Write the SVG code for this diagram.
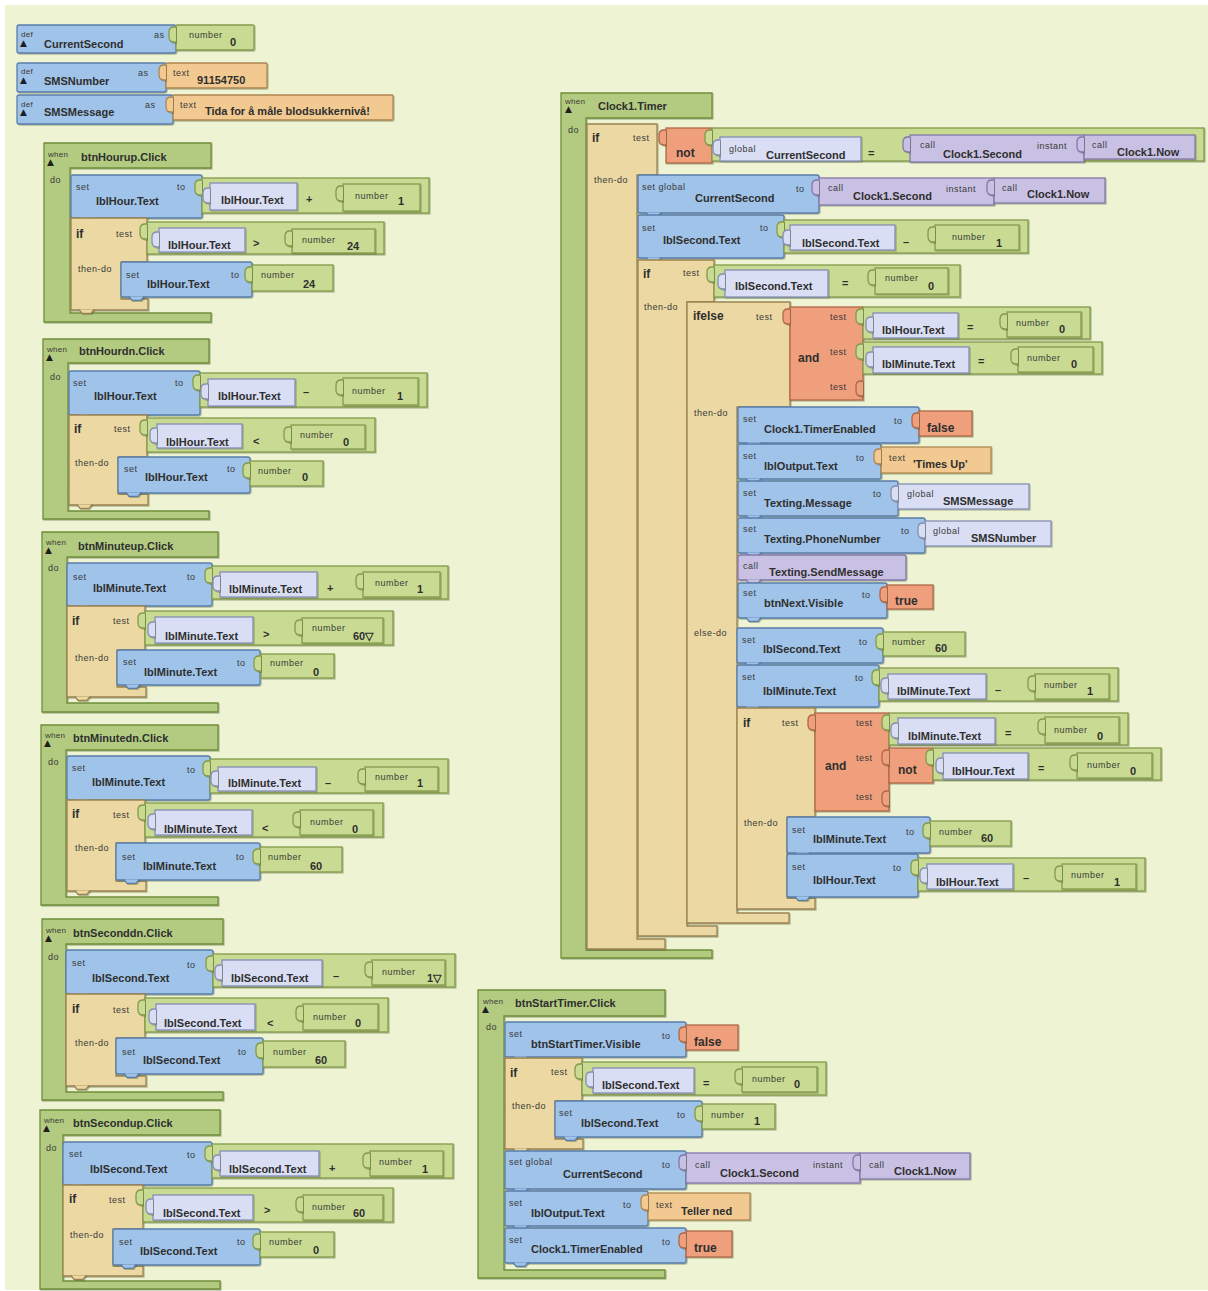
<svg xmlns="http://www.w3.org/2000/svg" xmlns:xlink="http://www.w3.org/1999/xlink" width="1208" height="1291" viewBox="0 0 1208 1291">
<defs>
<style>
.ev{fill:#b3cb80;stroke:#6f8d3b}
.st{fill:#9fc3e9;stroke:#5a7eab}
.ct{fill:#ecd8a2;stroke:#9a8252}
.nm{fill:#c9db92;stroke:#839a4a}
.gt{fill:#d9def4;stroke:#868fb4}
.cl{fill:#c9c1e4;stroke:#8378aa}
.tx{fill:#f2ca91;stroke:#ad8652}
.lg{fill:#ef9f7c;stroke:#ae6848}
rect,path,use{stroke-width:1.3}
.blk rect,.blk path,.blk use{filter:url(#bv)}
text{font-family:"Liberation Sans",Arial,sans-serif;fill:#2f2f2f}
.n{font-size:11px;font-weight:bold}
.v{font-size:11px;font-weight:bold}
.k{font-size:12px;font-weight:bold}
.l{font-size:9px;letter-spacing:.5px;dominant-baseline:central;fill:#3a3a3a}
.s{font-size:8px;letter-spacing:.3px;dominant-baseline:central;fill:#3a3a3a}
.t{font-size:9px;dominant-baseline:central;fill:#1e1e1e;font-family:"DejaVu Sans",sans-serif}
.o{font-size:11px;font-weight:bold;dominant-baseline:central}
</style>
<!-- soft bevel under every block -->
<filter id="bv" x="-5%" y="-5%" width="115%" height="125%">
<feDropShadow dx="1" dy="1" stdDeviation="0.4" flood-color="#3c4a20" flood-opacity="0.35"/>
</filter>
<!-- value plug on the left edge of an input block -->
<path id="tb" d="M0,2 h-2 c-3,0 -5,2 -5,5 v5 c0,3 2,5 5,5 h2"/>
<!-- statement connector bump under a block -->
<path id="nt" d="M0,-0.6 l3,4 h9 l3,-4"/>
</defs>

<rect x="0" y="0" width="1208" height="1291" fill="#ffffff"/>
<rect x="5" y="5" width="1203" height="1285" fill="#eef4d3"/>

<g class="blk">
<!-- global variables -->
<g id="def-CurrentSecond">
<rect class="st" x="17" y="25" width="159" height="28" rx="2"/>
<rect class="nm" x="176" y="25" width="78" height="25" rx="1"/><use href="#tb" x="176" y="25" class="nm"/>
<text class="s" x="21" y="34">def</text><text class="t" x="20" y="43">▲</text>
<text class="n" x="44" y="48">CurrentSecond</text>
<text class="l" x="154" y="35">as</text>
<text class="l" x="189" y="35">number</text><text class="v" x="230" y="46">0</text>
</g>
<g id="def-SMSNumber">
<rect class="st" x="17" y="63" width="149" height="29" rx="2"/>
<rect class="tx" x="166" y="63" width="101" height="25" rx="1"/><use href="#tb" x="166" y="63" class="tx"/>
<text class="s" x="21" y="71">def</text><text class="t" x="20" y="80">▲</text>
<text class="n" x="44" y="85">SMSNumber</text>
<text class="l" x="138" y="73">as</text>
<text class="l" x="173" y="73">text</text><text class="v" x="197" y="84">91154750</text>
</g>
<g id="def-SMSMessage">
<rect class="st" x="17" y="95" width="156" height="29" rx="2"/>
<rect class="tx" x="173" y="95" width="220" height="25" rx="1"/><use href="#tb" x="173" y="95" class="tx"/>
<text class="s" x="21" y="104">def</text><text class="t" x="20" y="112">▲</text>
<text class="n" x="44" y="116">SMSMessage</text>
<text class="l" x="145" y="105">as</text>
<text class="l" x="180" y="105">text</text><text class="v" x="205" y="115">Tida for å måle blodsukkernivå!</text>
</g>

<!-- when btnHourup.Click -->
<g id="ev-btnHourup">
<path class="ev" d="M44,143 H211 V168 H70 V313 H211 V322 H44 Z"/>
<text class="s" x="48" y="154">when</text><text class="t" x="47" y="162">▲</text>
<text class="n" x="81" y="161">btnHourup.Click</text><text class="l" x="50" y="180">do</text>
<g id="hu-set">
<rect class="st" x="71" y="175" width="131" height="43" rx="2"/><use href="#nt" x="79" y="218" class="st"/>
<text class="l" x="76" y="187">set</text><text class="n" x="96" y="205">lblHour.Text</text><text class="l" x="177" y="187">to</text>
<rect class="nm" x="202" y="178" width="227" height="35"/><use href="#tb" x="202" y="178" class="nm"/>
<rect class="gt" x="210" y="183" width="87" height="27"/><use href="#tb" x="210" y="186" class="gt"/>
<text class="n" x="221" y="204">lblHour.Text</text><text class="o" x="306" y="199">+</text>
<rect class="nm" x="343" y="184" width="77" height="27"/><use href="#tb" x="343" y="184" class="nm"/>
<text class="l" x="355" y="196">number</text><text class="v" x="398" y="205">1</text>
</g>
<g id="hu-if">
<path class="ct" d="M71,218 H147 V262 H121 V299 H148 V310 H71 Z"/><use href="#nt" x="79" y="310" class="ct"/>
<text class="k" x="76" y="238">if</text><text class="l" x="116" y="234">test</text><text class="l" x="78" y="269">then-do</text>
<rect class="nm" x="147" y="222" width="237" height="32"/><use href="#tb" x="147" y="222" class="nm"/>
<rect class="gt" x="159" y="228" width="86" height="24"/><use href="#tb" x="159" y="230" class="gt"/>
<text class="n" x="168" y="249">lblHour.Text</text><text class="o" x="253" y="243">&gt;</text>
<rect class="nm" x="292" y="229" width="83" height="24"/><use href="#tb" x="292" y="229" class="nm"/>
<text class="l" x="302" y="240">number</text><text class="v" x="347" y="250">24</text>
<rect class="st" x="121" y="262" width="131" height="35" rx="2"/><use href="#nt" x="129" y="297" class="st"/>
<text class="l" x="126" y="275">set</text><text class="n" x="147" y="288">lblHour.Text</text><text class="l" x="231" y="275">to</text>
<rect class="nm" x="252" y="265" width="81" height="26"/><use href="#tb" x="252" y="265" class="nm"/>
<text class="l" x="261" y="275">number</text><text class="v" x="303" y="288">24</text>
</g>
</g>

<!-- when btnHourdn.Click -->
<g id="ev-btnHourdn">
<path class="ev" d="M43,339 H209 V363 H68 V511 H209 V519 H43 Z"/>
<text class="s" x="47" y="349">when</text><text class="t" x="46" y="357">▲</text>
<text class="n" x="79" y="355">btnHourdn.Click</text><text class="l" x="50" y="377">do</text>
<g id="hd-set">
<rect class="st" x="69" y="371" width="131" height="44" rx="2"/><use href="#nt" x="77" y="415" class="st"/>
<text class="l" x="73" y="383">set</text><text class="n" x="94" y="400">lblHour.Text</text><text class="l" x="175" y="383">to</text>
<rect class="nm" x="200" y="373" width="227" height="34"/><use href="#tb" x="200" y="373" class="nm"/>
<rect class="gt" x="208" y="379" width="87" height="27"/><use href="#tb" x="208" y="382" class="gt"/>
<text class="n" x="218" y="400">lblHour.Text</text><text class="o" x="303" y="392">–</text>
<rect class="nm" x="343" y="378" width="75" height="27"/><use href="#tb" x="343" y="378" class="nm"/>
<text class="l" x="352" y="391">number</text><text class="v" x="397" y="400">1</text>
</g>
<g id="hd-if">
<path class="ct" d="M69,415 H147 V457 H118 V494 H148 V505 H69 Z"/><use href="#nt" x="77" y="505" class="ct"/>
<text class="k" x="74" y="433">if</text><text class="l" x="114" y="429">test</text><text class="l" x="75" y="463">then-do</text>
<rect class="nm" x="147" y="418" width="228" height="34"/><use href="#tb" x="147" y="418" class="nm"/>
<rect class="gt" x="157" y="424" width="85" height="24"/><use href="#tb" x="157" y="426" class="gt"/>
<text class="n" x="166" y="446">lblHour.Text</text><text class="o" x="253" y="441">&lt;</text>
<rect class="nm" x="291" y="425" width="74" height="24"/><use href="#tb" x="291" y="425" class="nm"/>
<text class="l" x="300" y="435">number</text><text class="v" x="343" y="446">0</text>
<rect class="st" x="118" y="457" width="132" height="36" rx="2"/><use href="#nt" x="126" y="493" class="st"/>
<text class="l" x="124" y="469">set</text><text class="n" x="145" y="481">lblHour.Text</text><text class="l" x="227" y="469">to</text>
<rect class="nm" x="250" y="461" width="73" height="25"/><use href="#tb" x="250" y="461" class="nm"/>
<text class="l" x="258" y="471">number</text><text class="v" x="302" y="481">0</text>
</g>
</g>

<!-- when btnMinuteup.Click -->
<g id="ev-btnMinuteup">
<path class="ev" d="M42,532 H218 V557 H67 V703 H218 V712 H42 Z"/>
<text class="s" x="46" y="542">when</text><text class="t" x="45" y="550">▲</text>
<text class="n" x="78" y="550">btnMinuteup.Click</text><text class="l" x="48" y="568">do</text>
<g id="mu-set">
<rect class="st" x="67" y="563" width="145" height="43" rx="2"/><use href="#nt" x="75" y="606" class="st"/>
<text class="l" x="73" y="577">set</text><text class="n" x="93" y="592">lblMinute.Text</text><text class="l" x="187" y="577">to</text>
<rect class="nm" x="212" y="566" width="236" height="33"/><use href="#tb" x="212" y="566" class="nm"/>
<rect class="gt" x="220" y="572" width="97" height="25"/><use href="#tb" x="220" y="574" class="gt"/>
<text class="n" x="229" y="593">lblMinute.Text</text><text class="o" x="327" y="588">+</text>
<rect class="nm" x="363" y="572" width="77" height="25"/><use href="#tb" x="363" y="572" class="nm"/>
<text class="l" x="375" y="583">number</text><text class="v" x="417" y="593">1</text>
</g>
<g id="mu-if">
<path class="ct" d="M67,606 H145 V650 H117 V687 H146 V697 H67 Z"/><use href="#nt" x="75" y="697" class="ct"/>
<text class="k" x="72" y="625">if</text><text class="l" x="113" y="621">test</text><text class="l" x="75" y="658">then-do</text>
<rect class="nm" x="145" y="611" width="248" height="34"/><use href="#tb" x="145" y="611" class="nm"/>
<rect class="gt" x="155" y="617" width="98" height="26"/><use href="#tb" x="155" y="620" class="gt"/>
<text class="n" x="165" y="640">lblMinute.Text</text><text class="o" x="263" y="634">&gt;</text>
<rect class="nm" x="302" y="618" width="81" height="25"/><use href="#tb" x="302" y="618" class="nm"/>
<text class="l" x="312" y="628">number</text><text class="v" x="353" y="640">60▽</text>
<rect class="st" x="117" y="650" width="143" height="35" rx="2"/><use href="#nt" x="125" y="685" class="st"/>
<text class="l" x="123" y="662">set</text><text class="n" x="144" y="676">lblMinute.Text</text><text class="l" x="237" y="663">to</text>
<rect class="nm" x="261" y="654" width="73" height="24"/><use href="#tb" x="261" y="654" class="nm"/>
<text class="l" x="270" y="663">number</text><text class="v" x="313" y="676">0</text>
</g>
</g>

<!-- when btnMinutedn.Click -->
<g id="ev-btnMinutedn">
<path class="ev" d="M41,725 H218 V750 H66 V897 H218 V905 H41 Z"/>
<text class="s" x="45" y="735">when</text><text class="t" x="44" y="743">▲</text>
<text class="n" x="73" y="742">btnMinutedn.Click</text><text class="l" x="48" y="762">do</text>
<g id="md-set">
<rect class="st" x="67" y="756" width="143" height="44" rx="2"/><use href="#nt" x="75" y="800" class="st"/>
<text class="l" x="72" y="768">set</text><text class="n" x="92" y="786">lblMinute.Text</text><text class="l" x="187" y="770">to</text>
<rect class="nm" x="210" y="759" width="238" height="34"/><use href="#tb" x="210" y="759" class="nm"/>
<rect class="gt" x="218" y="767" width="98" height="24"/><use href="#tb" x="218" y="769" class="gt"/>
<text class="n" x="228" y="787">lblMinute.Text</text><text class="o" x="325" y="783">–</text>
<rect class="nm" x="365" y="767" width="73" height="24"/><use href="#tb" x="365" y="767" class="nm"/>
<text class="l" x="375" y="777">number</text><text class="v" x="417" y="787">1</text>
</g>
<g id="md-if">
<path class="ct" d="M67,800 H145 V843 H116 V881 H146 V891 H67 Z"/><use href="#nt" x="75" y="891" class="ct"/>
<text class="k" x="72" y="818">if</text><text class="l" x="113" y="815">test</text><text class="l" x="75" y="848">then-do</text>
<rect class="nm" x="145" y="803" width="238" height="34"/><use href="#tb" x="145" y="803" class="nm"/>
<rect class="gt" x="155" y="810" width="97" height="25"/><use href="#tb" x="155" y="812" class="gt"/>
<text class="n" x="164" y="833">lblMinute.Text</text><text class="o" x="262" y="828">&lt;</text>
<rect class="nm" x="300" y="810" width="73" height="25"/><use href="#tb" x="300" y="810" class="nm"/>
<text class="l" x="310" y="822">number</text><text class="v" x="352" y="833">0</text>
<rect class="st" x="116" y="843" width="144" height="37" rx="2"/><use href="#nt" x="124" y="880" class="st"/>
<text class="l" x="122" y="857">set</text><text class="n" x="143" y="870">lblMinute.Text</text><text class="l" x="236" y="857">to</text>
<rect class="nm" x="260" y="847" width="82" height="25"/><use href="#tb" x="260" y="847" class="nm"/>
<text class="l" x="268" y="857">number</text><text class="v" x="310" y="870">60</text>
</g>
</g>

<!-- when btnSeconddn.Click -->
<g id="ev-btnSeconddn">
<path class="ev" d="M42,919 H223 V944 H66 V1092 H223 V1100 H42 Z"/>
<text class="s" x="46" y="930">when</text><text class="t" x="45" y="938">▲</text>
<text class="n" x="73" y="937">btnSeconddn.Click</text><text class="l" x="48" y="957">do</text>
<g id="sd-set">
<rect class="st" x="66" y="950" width="147" height="44" rx="2"/><use href="#nt" x="74" y="994" class="st"/>
<text class="l" x="72" y="963">set</text><text class="n" x="92" y="982">lblSecond.Text</text><text class="l" x="187" y="965">to</text>
<rect class="nm" x="213" y="954" width="242" height="33"/><use href="#tb" x="213" y="954" class="nm"/>
<rect class="gt" x="222" y="960" width="100" height="26"/><use href="#tb" x="222" y="963" class="gt"/>
<text class="n" x="231" y="982">lblSecond.Text</text><text class="o" x="333" y="976">–</text>
<rect class="nm" x="372" y="960" width="73" height="25"/><use href="#tb" x="372" y="960" class="nm"/>
<text class="l" x="382" y="972">number</text><text class="v" x="427" y="982">1▽</text>
</g>
<g id="sd-if">
<path class="ct" d="M66,994 H145 V1038 H116 V1076 H146 V1086 H66 Z"/><use href="#nt" x="74" y="1086" class="ct"/>
<text class="k" x="72" y="1013">if</text><text class="l" x="113" y="1010">test</text><text class="l" x="75" y="1043">then-do</text>
<rect class="nm" x="145" y="998" width="243" height="34"/><use href="#tb" x="145" y="998" class="nm"/>
<rect class="gt" x="156" y="1004" width="99" height="26"/><use href="#tb" x="156" y="1007" class="gt"/>
<text class="n" x="164" y="1027">lblSecond.Text</text><text class="o" x="267" y="1023">&lt;</text>
<rect class="nm" x="303" y="1004" width="75" height="26"/><use href="#tb" x="303" y="1004" class="nm"/>
<text class="l" x="313" y="1017">number</text><text class="v" x="355" y="1027">0</text>
<rect class="st" x="116" y="1038" width="147" height="36" rx="2"/><use href="#nt" x="124" y="1074" class="st"/>
<text class="l" x="122" y="1052">set</text><text class="n" x="143" y="1064">lblSecond.Text</text><text class="l" x="238" y="1052">to</text>
<rect class="nm" x="263" y="1041" width="82" height="26"/><use href="#tb" x="263" y="1041" class="nm"/>
<text class="l" x="273" y="1052">number</text><text class="v" x="315" y="1064">60</text>
</g>
</g>

<!-- when btnSecondup.Click -->
<g id="ev-btnSecondup">
<path class="ev" d="M40,1110 H220 V1135 H63 V1281 H220 V1289 H40 Z"/>
<text class="s" x="44" y="1120">when</text><text class="t" x="43" y="1128">▲</text>
<text class="n" x="73" y="1127">btnSecondup.Click</text><text class="l" x="46" y="1148">do</text>
<g id="su-set">
<rect class="st" x="63" y="1142" width="149" height="43" rx="2"/><use href="#nt" x="71" y="1185" class="st"/>
<text class="l" x="69" y="1154">set</text><text class="n" x="90" y="1173">lblSecond.Text</text><text class="l" x="187" y="1155">to</text>
<rect class="nm" x="212" y="1144" width="241" height="34"/><use href="#tb" x="212" y="1144" class="nm"/>
<rect class="gt" x="220" y="1151" width="99" height="25"/><use href="#tb" x="220" y="1153" class="gt"/>
<text class="n" x="229" y="1173">lblSecond.Text</text><text class="o" x="329" y="1168">+</text>
<rect class="nm" x="370" y="1151" width="73" height="25"/><use href="#tb" x="370" y="1151" class="nm"/>
<text class="l" x="379" y="1162">number</text><text class="v" x="422" y="1173">1</text>
</g>
<g id="su-if">
<path class="ct" d="M63,1185 H143 V1229 H113 V1266 H143 V1276 H63 Z"/><use href="#nt" x="71" y="1276" class="ct"/>
<text class="k" x="69" y="1203">if</text><text class="l" x="109" y="1200">test</text><text class="l" x="70" y="1235">then-do</text>
<rect class="nm" x="143" y="1188" width="250" height="34"/><use href="#tb" x="143" y="1188" class="nm"/>
<rect class="gt" x="153" y="1195" width="100" height="25"/><use href="#tb" x="153" y="1197" class="gt"/>
<text class="n" x="163" y="1217">lblSecond.Text</text><text class="o" x="264" y="1210">&gt;</text>
<rect class="nm" x="303" y="1195" width="80" height="25"/><use href="#tb" x="303" y="1195" class="nm"/>
<text class="l" x="312" y="1207">number</text><text class="v" x="353" y="1217">60</text>
<rect class="st" x="113" y="1229" width="147" height="36" rx="2"/><use href="#nt" x="121" y="1265" class="st"/>
<text class="l" x="119" y="1242">set</text><text class="n" x="140" y="1255">lblSecond.Text</text><text class="l" x="237" y="1242">to</text>
<rect class="nm" x="260" y="1232" width="74" height="25"/><use href="#tb" x="260" y="1232" class="nm"/>
<text class="l" x="269" y="1242">number</text><text class="v" x="313" y="1254">0</text>
</g>
</g>

<!-- when Clock1.Timer -->
<g id="ev-Clock1Timer">
<path class="ev" d="M561,93 H712 V118 H586 V950 H712 V958 H561 Z"/>
<text class="s" x="565" y="101">when</text><text class="t" x="565" y="109">▲</text>
<text class="n" x="598" y="110">Clock1.Timer</text><text class="l" x="568" y="130">do</text>

<g id="ct-if-changed">
<path class="ct" d="M587,124 H657 V175 H637 V939 H665 V949 H587 Z"/>
<text class="k" x="592" y="142">if</text><text class="l" x="633" y="138">test</text><text class="l" x="594" y="180">then-do</text>
<rect class="lg" x="666" y="128" width="46" height="35"/><use href="#tb" x="666" y="128" class="lg"/>
<text class="k" x="676" y="157">not</text>
<rect class="nm" x="712" y="128" width="492" height="33"/><use href="#tb" x="712" y="128" class="nm"/>
<rect class="gt" x="720" y="137" width="141" height="24"/><use href="#tb" x="720" y="138" class="gt"/>
<text class="l" x="729" y="149">global</text><text class="n" x="766" y="159">CurrentSecond</text>
<text class="o" x="868" y="153">=</text>
<rect class="cl" x="910" y="135" width="174" height="27"/><use href="#tb" x="910" y="135" class="cl"/>
<text class="l" x="920" y="145">call</text><text class="n" x="943" y="158">Clock1.Second</text><text class="l" x="1037" y="146">instant</text>
<rect class="cl" x="1084" y="135" width="111" height="24"/><use href="#tb" x="1084" y="135" class="cl"/>
<text class="l" x="1092" y="145">call</text><text class="n" x="1117" y="156">Clock1.Now</text>
</g>

<g id="ct-set-current">
<rect class="st" x="638" y="175" width="181" height="38" rx="2"/><use href="#nt" x="646" y="213" class="st"/>
<text class="l" x="642" y="187">set global</text><text class="n" x="695" y="202">CurrentSecond</text><text class="l" x="796" y="189">to</text>
<rect class="cl" x="819" y="178" width="175" height="27"/><use href="#tb" x="819" y="178" class="cl"/>
<text class="l" x="828" y="188">call</text><text class="n" x="853" y="200">Clock1.Second</text><text class="l" x="946" y="189">instant</text>
<rect class="cl" x="994" y="178" width="111" height="25"/><use href="#tb" x="994" y="178" class="cl"/>
<text class="l" x="1002" y="188">call</text><text class="n" x="1027" y="198">Clock1.Now</text>
</g>

<g id="ct-set-second">
<rect class="st" x="638" y="215" width="146" height="43" rx="2"/><use href="#nt" x="646" y="258" class="st"/>
<text class="l" x="642" y="228">set</text><text class="n" x="663" y="244">lblSecond.Text</text><text class="l" x="760" y="228">to</text>
<rect class="nm" x="784" y="220" width="244" height="33"/><use href="#tb" x="784" y="220" class="nm"/>
<rect class="gt" x="790" y="225" width="105" height="25"/><use href="#tb" x="790" y="228" class="gt"/>
<text class="n" x="802" y="247">lblSecond.Text</text><text class="o" x="903" y="242">–</text>
<rect class="nm" x="935" y="225" width="84" height="25"/><use href="#tb" x="935" y="225" class="nm"/>
<text class="l" x="952" y="237">number</text><text class="v" x="996" y="247">1</text>
</g>

<g id="ct-if-zero">
<path class="ct" d="M638,260 H714 V302 H687 V926 H717 V936 H638 Z"/>
<text class="k" x="643" y="278">if</text><text class="l" x="683" y="273">test</text><text class="l" x="644" y="307">then-do</text>
<rect class="nm" x="714" y="265" width="246" height="32"/><use href="#tb" x="714" y="265" class="nm"/>
<rect class="gt" x="725" y="270" width="103" height="27"/><use href="#tb" x="725" y="272" class="gt"/>
<text class="n" x="735" y="290">lblSecond.Text</text><text class="o" x="842" y="283">=</text>
<rect class="nm" x="875" y="268" width="73" height="26"/><use href="#tb" x="875" y="268" class="nm"/>
<text class="l" x="885" y="278">number</text><text class="v" x="928" y="290">0</text>
</g>

<g id="ct-ifelse">
<path class="ct" d="M687,302 H790 V407 H737 V913 H789 V923 H687 Z"/>
<text class="k" x="693" y="320">ifelse</text><text class="l" x="756" y="317">test</text>
<text class="l" x="694" y="413">then-do</text><text class="l" x="694" y="633">else-do</text>
<rect class="lg" x="790" y="307" width="73" height="93"/><use href="#tb" x="790" y="307" class="lg"/>
<text class="k" x="798" y="362">and</text>
<text class="l" x="830" y="317">test</text><text class="l" x="830" y="352">test</text><text class="l" x="830" y="387">test</text>
<use href="#tb" x="863" y="379" class="lg"/>
<rect class="nm" x="863" y="307" width="227" height="32"/><use href="#tb" x="863" y="307" class="nm"/>
<rect class="gt" x="873" y="313" width="85" height="25"/><use href="#tb" x="873" y="315" class="gt"/>
<text class="n" x="882" y="334">lblHour.Text</text><text class="o" x="967" y="327">=</text>
<rect class="nm" x="1007" y="312" width="74" height="25"/><use href="#tb" x="1007" y="312" class="nm"/>
<text class="l" x="1016" y="323">number</text><text class="v" x="1059" y="333">0</text>
<rect class="nm" x="863" y="342" width="239" height="32"/><use href="#tb" x="863" y="342" class="nm"/>
<rect class="gt" x="873" y="347" width="96" height="26"/><use href="#tb" x="873" y="350" class="gt"/>
<text class="n" x="882" y="368">lblMinute.Text</text><text class="o" x="978" y="361">=</text>
<rect class="nm" x="1018" y="347" width="75" height="25"/><use href="#tb" x="1018" y="347" class="nm"/>
<text class="l" x="1027" y="358">number</text><text class="v" x="1071" y="368">0</text>
</g>

<g id="ct-then-stack">
<rect class="st" x="738" y="407" width="181" height="36" rx="2"/><use href="#nt" x="746" y="443" class="st"/>
<text class="l" x="743" y="419">set</text><text class="n" x="764" y="433">Clock1.TimerEnabled</text><text class="l" x="894" y="421">to</text>
<rect class="lg" x="919" y="411" width="53" height="25"/><use href="#tb" x="919" y="411" class="lg"/>
<text class="k" x="927" y="432">false</text>

<rect class="st" x="738" y="444" width="143" height="35" rx="2"/><use href="#nt" x="746" y="479" class="st"/>
<text class="l" x="743" y="456">set</text><text class="n" x="764" y="470">lblOutput.Text</text><text class="l" x="856" y="458">to</text>
<rect class="tx" x="881" y="447" width="110" height="26"/><use href="#tb" x="881" y="447" class="tx"/>
<text class="l" x="889" y="458">text</text><text class="v" x="913" y="468">'Times Up'</text>

<rect class="st" x="738" y="481" width="160" height="35" rx="2"/><use href="#nt" x="746" y="516" class="st"/>
<text class="l" x="743" y="493">set</text><text class="n" x="764" y="507">Texting.Message</text><text class="l" x="873" y="494">to</text>
<rect class="gt" x="898" y="484" width="131" height="25"/><use href="#tb" x="898" y="484" class="gt"/>
<text class="l" x="907" y="494">global</text><text class="n" x="943" y="505">SMSMessage</text>

<rect class="st" x="738" y="518" width="187" height="35" rx="2"/><use href="#nt" x="746" y="553" class="st"/>
<text class="l" x="743" y="529">set</text><text class="n" x="764" y="543">Texting.PhoneNumber</text><text class="l" x="901" y="531">to</text>
<rect class="gt" x="925" y="521" width="126" height="25"/><use href="#tb" x="925" y="521" class="gt"/>
<text class="l" x="933" y="531">global</text><text class="n" x="971" y="542">SMSNumber</text>

<rect class="cl" x="738" y="555" width="168" height="25" rx="2"/><use href="#nt" x="746" y="580" class="cl"/>
<text class="l" x="743" y="566">call</text><text class="n" x="769" y="576">Texting.SendMessage</text>

<rect class="st" x="738" y="583" width="149" height="35" rx="2"/><use href="#nt" x="746" y="618" class="st"/>
<text class="l" x="743" y="593">set</text><text class="n" x="764" y="607">btnNext.Visible</text><text class="l" x="862" y="595">to</text>
<rect class="lg" x="887" y="585" width="46" height="24"/><use href="#tb" x="887" y="585" class="lg"/>
<text class="k" x="895" y="605">true</text>
</g>

<g id="ct-else-stack">
<rect class="st" x="737" y="628" width="146" height="35" rx="2"/><use href="#nt" x="745" y="663" class="st"/>
<text class="l" x="742" y="640">set</text><text class="n" x="763" y="653">lblSecond.Text</text><text class="l" x="859" y="642">to</text>
<rect class="nm" x="883" y="632" width="82" height="24"/><use href="#tb" x="883" y="632" class="nm"/>
<text class="l" x="892" y="642">number</text><text class="v" x="935" y="652">60</text>

<rect class="st" x="737" y="665" width="142" height="42" rx="2"/><use href="#nt" x="745" y="707" class="st"/>
<text class="l" x="742" y="677">set</text><text class="n" x="763" y="695">lblMinute.Text</text><text class="l" x="855" y="678">to</text>
<rect class="nm" x="879" y="668" width="239" height="33"/><use href="#tb" x="879" y="668" class="nm"/>
<rect class="gt" x="888" y="674" width="98" height="25"/><use href="#tb" x="888" y="676" class="gt"/>
<text class="n" x="897" y="695">lblMinute.Text</text><text class="o" x="995" y="690">–</text>
<rect class="nm" x="1035" y="674" width="74" height="25"/><use href="#tb" x="1035" y="674" class="nm"/>
<text class="l" x="1044" y="685">number</text><text class="v" x="1087" y="695">1</text>
</g>

<g id="ct-if-rollover">
<path class="ct" d="M737,708 H815 V817 H787 V898 H815 V909 H737 Z"/>
<text class="k" x="743" y="727">if</text><text class="l" x="782" y="723">test</text><text class="l" x="744" y="823">then-do</text>
<rect class="lg" x="815" y="713" width="74" height="98"/><use href="#tb" x="815" y="713" class="lg"/>
<text class="k" x="825" y="770">and</text>
<text class="l" x="856" y="723">test</text><text class="l" x="856" y="758">test</text><text class="l" x="856" y="797">test</text>
<use href="#tb" x="889" y="789" class="lg"/>
<rect class="nm" x="889" y="713" width="239" height="32"/><use href="#tb" x="889" y="713" class="nm"/>
<rect class="gt" x="898" y="718" width="97" height="26"/><use href="#tb" x="898" y="721" class="gt"/>
<text class="n" x="908" y="740">lblMinute.Text</text><text class="o" x="1005" y="733">=</text>
<rect class="nm" x="1045" y="717" width="74" height="26"/><use href="#tb" x="1045" y="717" class="nm"/>
<text class="l" x="1054" y="730">number</text><text class="v" x="1097" y="740">0</text>
<rect class="lg" x="889" y="748" width="44" height="35"/><use href="#tb" x="889" y="748" class="lg"/>
<text class="k" x="898" y="774">not</text>
<rect class="nm" x="933" y="748" width="228" height="32"/><use href="#tb" x="933" y="748" class="nm"/>
<rect class="gt" x="943" y="753" width="85" height="26"/><use href="#tb" x="943" y="756" class="gt"/>
<text class="n" x="952" y="775">lblHour.Text</text><text class="o" x="1038" y="768">=</text>
<rect class="nm" x="1077" y="753" width="75" height="25"/><use href="#tb" x="1077" y="753" class="nm"/>
<text class="l" x="1087" y="765">number</text><text class="v" x="1130" y="775">0</text>

<rect class="st" x="787" y="817" width="143" height="36" rx="2"/><use href="#nt" x="795" y="853" class="st"/>
<text class="l" x="792" y="830">set</text><text class="n" x="813" y="843">lblMinute.Text</text><text class="l" x="906" y="832">to</text>
<rect class="nm" x="930" y="821" width="81" height="25"/><use href="#tb" x="930" y="821" class="nm"/>
<text class="l" x="939" y="832">number</text><text class="v" x="981" y="842">60</text>

<rect class="st" x="787" y="854" width="131" height="43" rx="2"/><use href="#nt" x="795" y="897" class="st"/>
<text class="l" x="792" y="867">set</text><text class="n" x="813" y="884">lblHour.Text</text><text class="l" x="893" y="868">to</text>
<rect class="nm" x="918" y="858" width="227" height="33"/><use href="#tb" x="918" y="858" class="nm"/>
<rect class="gt" x="927" y="864" width="86" height="25"/><use href="#tb" x="927" y="866" class="gt"/>
<text class="n" x="936" y="886">lblHour.Text</text><text class="o" x="1023" y="878">–</text>
<rect class="nm" x="1062" y="864" width="74" height="25"/><use href="#tb" x="1062" y="864" class="nm"/>
<text class="l" x="1071" y="875">number</text><text class="v" x="1114" y="886">1</text>
</g>
</g>

<!-- when btnStartTimer.Click -->
<g id="ev-btnStartTimer">
<path class="ev" d="M478,990 H665 V1016 H504 V1270 H665 V1278 H478 Z"/>
<text class="s" x="483" y="1001">when</text><text class="t" x="482" y="1009">▲</text>
<text class="n" x="515" y="1007">btnStartTimer.Click</text><text class="l" x="486" y="1027">do</text>
<g id="st-hide">
<rect class="st" x="505" y="1022" width="181" height="35" rx="2"/><use href="#nt" x="513" y="1057" class="st"/>
<text class="l" x="509" y="1034">set</text><text class="n" x="531" y="1048">btnStartTimer.Visible</text><text class="l" x="662" y="1036">to</text>
<rect class="lg" x="686" y="1025" width="52" height="25"/><use href="#tb" x="686" y="1025" class="lg"/>
<text class="k" x="694" y="1046">false</text>
</g>
<g id="st-if">
<path class="ct" d="M505,1058 H582 V1101 H555 V1139 H583 V1149 H505 Z"/><use href="#nt" x="513" y="1149" class="ct"/>
<text class="k" x="510" y="1077">if</text><text class="l" x="551" y="1072">test</text><text class="l" x="512" y="1106">then-do</text>
<rect class="nm" x="582" y="1062" width="244" height="33"/><use href="#tb" x="582" y="1062" class="nm"/>
<rect class="gt" x="593" y="1068" width="101" height="25"/><use href="#tb" x="593" y="1070" class="gt"/>
<text class="n" x="602" y="1089">lblSecond.Text</text><text class="o" x="703" y="1083">=</text>
<rect class="nm" x="742" y="1067" width="75" height="25"/><use href="#tb" x="742" y="1067" class="nm"/>
<text class="l" x="752" y="1079">number</text><text class="v" x="794" y="1088">0</text>
<rect class="st" x="555" y="1101" width="147" height="36" rx="2"/><use href="#nt" x="563" y="1137" class="st"/>
<text class="l" x="559" y="1113">set</text><text class="n" x="581" y="1127">lblSecond.Text</text><text class="l" x="677" y="1115">to</text>
<rect class="nm" x="702" y="1104" width="73" height="25"/><use href="#tb" x="702" y="1104" class="nm"/>
<text class="l" x="711" y="1115">number</text><text class="v" x="754" y="1125">1</text>
</g>
<g id="st-set-current">
<rect class="st" x="505" y="1151" width="181" height="38" rx="2"/><use href="#nt" x="513" y="1189" class="st"/>
<text class="l" x="509" y="1162">set global</text><text class="n" x="563" y="1178">CurrentSecond</text><text class="l" x="662" y="1165">to</text>
<rect class="cl" x="686" y="1153" width="174" height="30"/><use href="#tb" x="686" y="1153" class="cl"/>
<text class="l" x="695" y="1165">call</text><text class="n" x="720" y="1177">Clock1.Second</text><text class="l" x="813" y="1165">instant</text>
<rect class="cl" x="860" y="1153" width="110" height="26"/><use href="#tb" x="860" y="1153" class="cl"/>
<text class="l" x="869" y="1165">call</text><text class="n" x="894" y="1175">Clock1.Now</text>
</g>
<g id="st-output">
<rect class="st" x="505" y="1191" width="143" height="35" rx="2"/><use href="#nt" x="513" y="1226" class="st"/>
<text class="l" x="509" y="1203">set</text><text class="n" x="531" y="1217">lblOutput.Text</text><text class="l" x="623" y="1205">to</text>
<rect class="tx" x="648" y="1193" width="102" height="27"/><use href="#tb" x="648" y="1193" class="tx"/>
<text class="l" x="656" y="1205">text</text><text class="v" x="681" y="1215">Teller ned</text>
</g>
<g id="st-enable">
<rect class="st" x="505" y="1228" width="181" height="35" rx="2"/><use href="#nt" x="513" y="1263" class="st"/>
<text class="l" x="509" y="1240">set</text><text class="n" x="531" y="1253">Clock1.TimerEnabled</text><text class="l" x="662" y="1242">to</text>
<rect class="lg" x="686" y="1231" width="46" height="26"/><use href="#tb" x="686" y="1231" class="lg"/>
<text class="k" x="694" y="1252">true</text>
</g>
</g>
</g>
</svg>
